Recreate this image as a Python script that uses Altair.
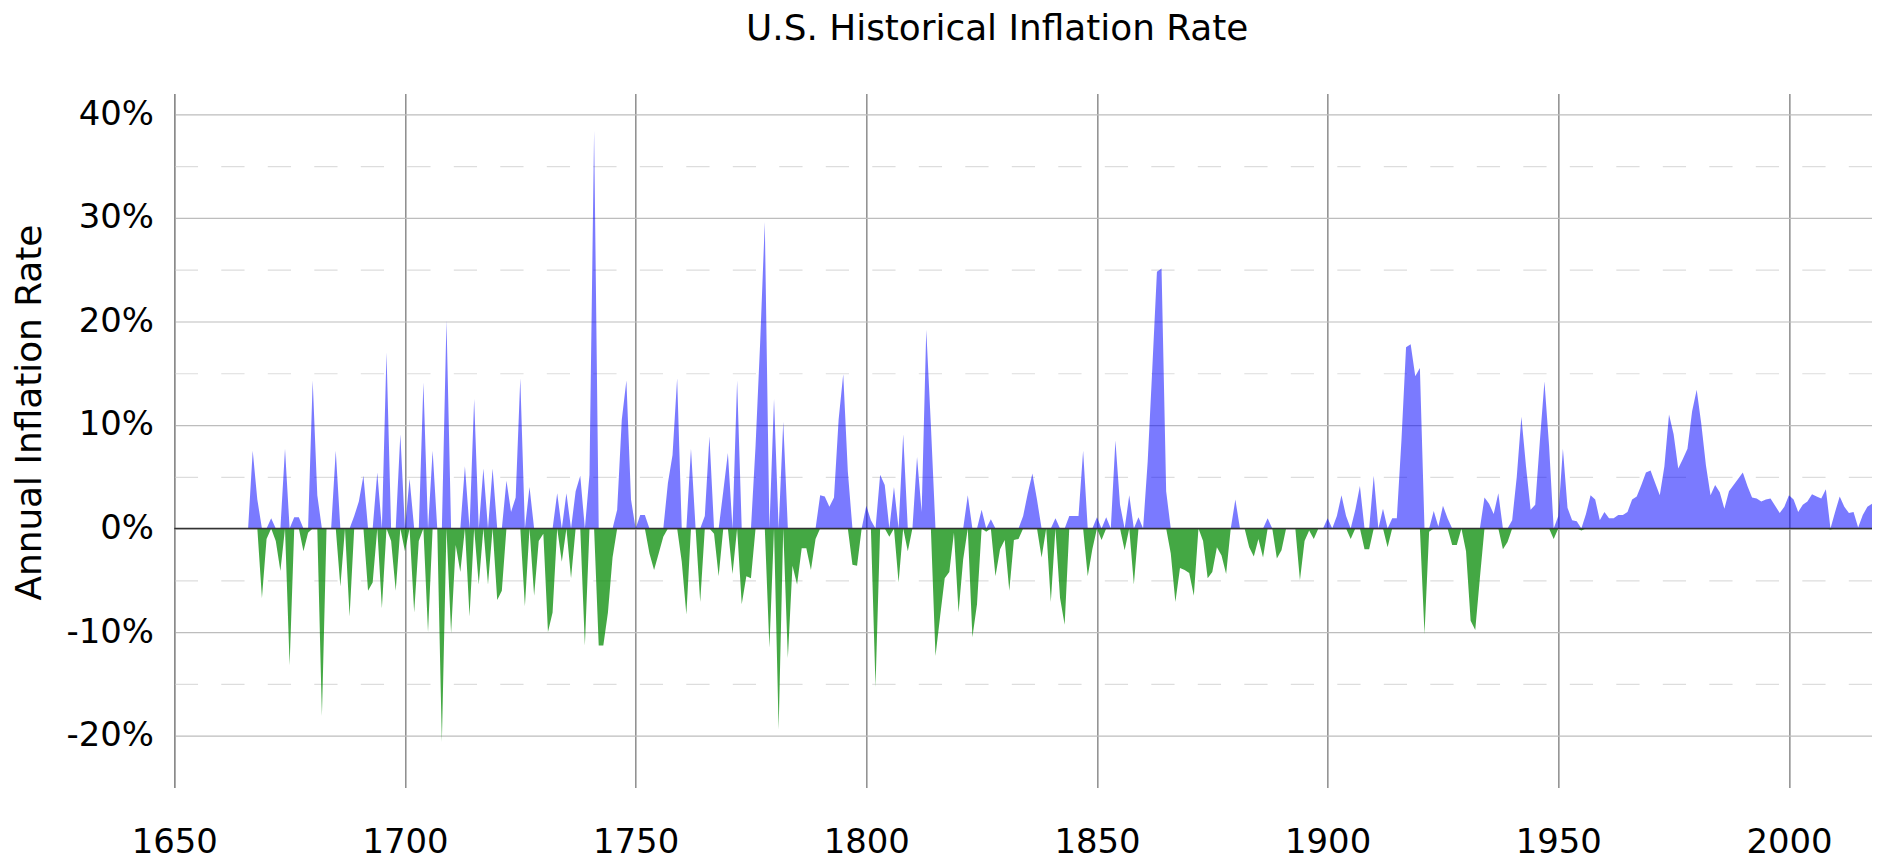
import altair as alt
import pandas as pd

# Annual inflation rate (%), by century
rates_1600s = [0.0, 7.5, 2.8, -6.7,                                  # 1666-1669
               -1.0, 1.0, -1.2, -4.1, 7.7, -13.2, 1.1, 1.1, -2.2, -0.4,  # 1670s
               14.3, 3.2, -18.1, 0.0, 0.0, 7.5, -5.6, 0.0, -8.5, 1.2,    # 1680s
               2.6, 5.1, -6.0, -5.2, 5.4, -7.7, 17.0, -1.2, -6.0, 9.1]   # 1690s
rates_1700s = [-2.2, 4.8, -8.1, -1.2, 14.1, -10.0, 7.5, 0.0, -20.6, 20.1,
               -10.1, -1.6, -4.2, 6.0, -8.5, 12.5, -5.4, 5.8, -5.4, 5.8,
               -6.9, -6.0, 4.6, 1.6, 3.0, 14.5, -7.5, 4.0, -6.5, -1.2,
               -0.5, -10.0, -8.1, 3.4, -3.2, 3.4, -4.8, 3.6, 5.1, -11.3,
               5.2, 38.4, -11.3, -11.3, -8.1, -2.8, 1.8, 10.5, 14.3, 2.8,
               0.0, 1.3, 1.3, -2.4, -4.0, -2.4, -0.8, 4.4, 7.1, 14.5,
               -3.2, -8.3, 7.7, 0.0, -7.1, 1.2, 8.9, -0.5, -4.6, 3.6,
               7.3, -4.4, 14.3, -7.3, -4.6, -4.8, 8.0, 18.0, 29.6, -11.5,
               12.5, -19.4, 10.3, -12.5, -3.6, -5.4, -1.9, -1.9, -4.0, -1.0,
               3.2, 3.1, 2.1, 3.0, 10.5, 14.9, 5.5, -3.5, -3.6, 0.0]
rates_1800s = [2.2, 0.8, -15.3, 5.2, 4.2, -0.8, 4.0, -5.2, 9.1, -2.2,
               0.0, 6.9, 1.6, 19.2, 10.0, -12.3, -8.5, -4.8, -4.2, -0.4,
               -8.1, -3.0, 3.2, -10.5, -7.3, 1.8, -0.3, 0.9, -4.6, -2.0,
               -1.1, -6.0, -1.1, -1.0, 1.2, 3.4, 5.3, 2.8, -2.8, 0.0,
               -7.1, 1.0, -6.7, -9.3, 1.2, 1.2, 1.2, 7.5, -4.6, -2.0,
               1.1, -1.1, 1.1, 0.0, 8.5, 2.3, -2.1, 3.2, -5.4, 1.1,
               0.0, 6.5, 15.5, 24.8, 25.1, 3.6, -2.4, -7.1, -3.8, -4.0,
               -4.3, -6.5, 0.0, -1.2, -4.8, -4.2, -1.8, -2.6, -4.4, 0.0,
               2.8, 0.0, 0.0, -1.8, -2.7, -1.0, -2.8, 1.0, 0.0, -2.9,
               -2.1, 0.0, 0.0, 0.0, -5.0, -1.2, -0.2, -1.0, 0.0, 0.0]
rates_1900s = [1.0, 0.0, 1.2, 3.2, 1.2, -1.0, 1.8, 4.1, -2.0, -2.0,
               5.1, 0.0, 1.9, -1.8, 1.0, 1.0, 8.5, 17.5, 17.8, 14.7,
               15.5, -10.2, -0.3, 1.7, 0.2, 2.2, 1.0, -1.6, -1.6, 0.0,
               -2.2, -8.9, -9.8, -4.8, 3.0, 2.4, 1.4, 3.4, -2.0, -1.3,
               0.8, 5.0, 10.8, 6.0, 1.8, 2.3, 8.4, 14.2, 8.0, -1.0,
               1.2, 7.7, 2.0, 0.8, 0.7, -0.2, 1.4, 3.2, 2.8, 0.8,
               1.6, 1.0, 1.0, 1.3, 1.3, 1.6, 2.8, 3.1, 4.2, 5.4,
               5.6, 4.4, 3.2, 6.0, 11.0, 9.1, 5.8, 6.7, 7.7, 11.3,
               13.4, 10.1, 6.1, 3.2, 4.2, 3.5, 1.9, 3.6, 4.2, 4.8,
               5.4, 4.1, 3.0, 2.9, 2.6, 2.8, 2.9, 2.2, 1.5, 2.1]
rates_2000s = [3.2, 2.8, 1.6, 2.3, 2.6, 3.3, 3.1, 2.9, 3.8, -0.1,
               1.6, 3.1, 2.1, 1.5, 1.6, 0.1, 1.3, 2.1, 2.4]

first_year = 1666
rates = rates_1600s + rates_1700s + rates_1800s + rates_1900s + rates_2000s
years = list(range(first_year, first_year + len(rates)))

x_ticks = [1650, 1700, 1750, 1800, 1850, 1900, 1950, 2000]
y_ticks = [-20, -15, -10, -5, 0, 5, 10, 15, 20, 25, 30, 35, 40]
zero_line = [0]

df = pd.DataFrame({"year": years, "rate": rates})

FONT = "DejaVu Sans"

x_scale = alt.Scale(domain=[1650, 2018], nice=False, zero=False)
x_axis = alt.Axis(
    values=x_ticks, format="d", title=None, grid=True,
    gridColor="#8c8c8c", gridWidth=1.5, domain=False, ticks=False,
    labelFontSize=34, labelPadding=38, labelFlush=False,
    labelColor="black", labelFont=FONT, labelOverlap=False,
)

y_scale = alt.Scale(domain=[-25, 42], nice=False, zero=False)
y_axis = alt.Axis(
    values=y_ticks,
    labelExpr="datum.value % 10 === 0 ? datum.value + '%' : ''",
    title="Annual Inflation Rate", titleFontSize=36, titleFont=FONT,
    titleFontWeight="normal", titleColor="black",
    titleX=-126, titleY=320,
    labelFontSize=34, labelFont=FONT, labelColor="black", labelPadding=21,
    ticks=False, domain=True, domainColor="#888888", domainWidth=1.2,
    grid=True,
    gridColor={"condition": {"test": "datum.value % 10 !== 0", "value": "#dddddd"},
               "value": "#bdbdbd"},
    gridDash={"condition": {"test": "datum.value % 10 !== 0", "value": [23.35, 23.35]},
              "value": []},
    gridWidth=1.2,
    labelOverlap=False,
)

base = alt.Chart(df).transform_calculate(
    pos="max(datum.rate, 0)", neg="min(datum.rate, 0)"
)

pos_area = base.mark_area(color="#0000ff", opacity=0.52, interpolate="linear").encode(
    x=alt.X("year:Q", scale=x_scale, axis=x_axis),
    y=alt.Y("pos:Q", scale=y_scale, axis=y_axis, title="Annual Inflation Rate"),
)

neg_area = base.mark_area(color="#109010", opacity=0.78, interpolate="linear").encode(
    x=alt.X("year:Q", scale=x_scale, axis=x_axis),
    y=alt.Y("neg:Q", scale=y_scale, axis=y_axis, title="Annual Inflation Rate"),
)

zero_rule = alt.Chart(pd.DataFrame({"v": zero_line})).mark_rule(
    color="#333333", strokeWidth=1.6
).encode(y=alt.Y("v:Q", scale=y_scale, axis=y_axis, title="Annual Inflation Rate"))

chart = alt.layer(pos_area, neg_area, zero_rule).properties(
    width=1705,
    height=697,
    title=alt.TitleParams(
        "U.S. Historical Inflation Rate", fontSize=36, font=FONT,
        fontWeight="normal", color="black", anchor="middle", frame="group",
        baseline="alphabetic", offset=18, dx=-26,
    ),
    autosize=alt.AutoSizeParams(type="none"),
    padding={"left": 167, "top": 84, "right": 0, "bottom": 71},
).configure(background="white").configure_view(strokeWidth=0)

chart.save("out.html", embed_options={"renderer": "svg", "actions": False})
